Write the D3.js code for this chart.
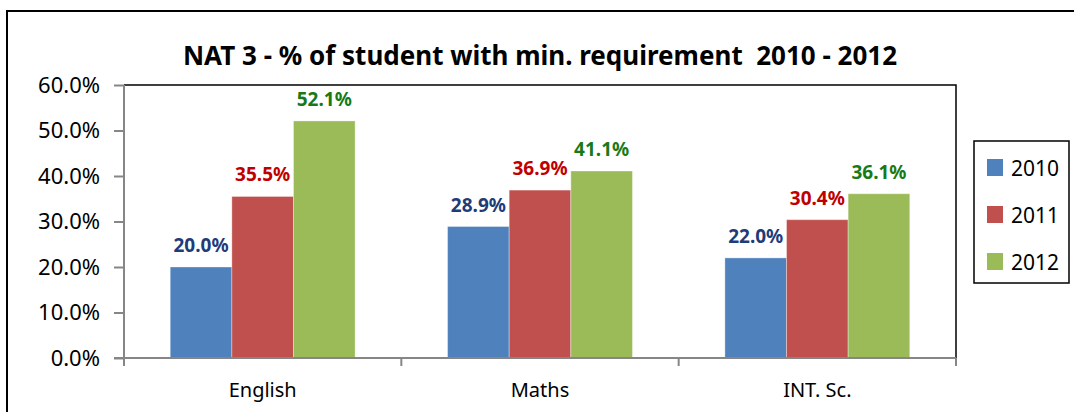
<!DOCTYPE html>
<html>
<head>
<meta charset="utf-8">
<script src="https://cdn.jsdelivr.net/npm/d3@7"></script>
<style>
  body { margin: 0; background: #fff; }
  svg { display: block; font-family: "Noto Sans", sans-serif; }
</style>
</head>
<body>
<svg id="chart" width="1074" height="412"></svg>
<script>
const title = "NAT 3 - % of student with min. requirement  2010 - 2012"
const subjects = ["English", "Maths", "INT. Sc."]
const years = ["2010", "2011", "2012"]
const values2010 = [20.0, 28.9, 22.0]
const values2011 = [35.5, 36.9, 30.4]
const values2012 = [52.1, 41.1, 36.1]
const yTicks = [0, 10, 20, 30, 40, 50, 60]

const barColors = ["#4F81BD", "#C0504D", "#9BBB59"]
const labelColors = ["#1F3B78", "#C00000", "#177A17"]

const seriesValues = [values2010, values2011, values2012]

const svg = d3.select("#chart")
const plot = { left: 124, right: 956, top: 85, bottom: 358 }

// outer chart frame (runs off the picture at right and bottom)
svg.append("rect")
    .attr("x", 7).attr("y", 11)
    .attr("width", 1090).attr("height", 420)
    .attr("fill", "none")
    .attr("stroke", "#000")
    .attr("stroke-width", 2)

svg.append("text")
    .attr("x", (plot.left + plot.right) / 2)
    .attr("y", 65)
    .attr("text-anchor", "middle")
    .attr("font-size", 26)
    .attr("font-weight", "bold")
    .style("white-space", "pre")
    .text(title)

const x0 = d3.scaleBand().domain(subjects).range([plot.left, plot.right]).padding(0)
const x1 = d3.scaleBand().domain(years)
    .range([x0.bandwidth() / 6, x0.bandwidth() * 5 / 6]).padding(0)
const y = d3.scaleLinear().domain([0, 60]).range([plot.bottom, plot.top])

// plot area border (top and right black)
svg.append("path")
    .attr("d", `M${plot.left},${plot.top}H${plot.right}V${plot.bottom}`)
    .attr("fill", "none")
    .attr("stroke", "#000")
    .attr("stroke-width", 1.5)

const groups = svg.selectAll(".group")
    .data(subjects)
    .enter().append("g")
    .attr("transform", d => `translate(${x0(d)},0)`)

groups.each(function (subject, i) {
    const g = d3.select(this)
    years.forEach((yr, s) => {
        const v = seriesValues[s][i]
        g.append("rect")
            .attr("x", x1(yr))
            .attr("y", y(v))
            .attr("width", x1.bandwidth())
            .attr("height", y(0) - y(v))
            .attr("fill", barColors[s])
            .attr("stroke", "rgba(255,255,255,0.35)")
            .attr("stroke-width", 1)
        g.append("text")
            .attr("x", x1(yr) + x1.bandwidth() / 2)
            .attr("y", y(v) - 15)
            .attr("text-anchor", "middle")
            .attr("font-size", 19)
            .attr("font-weight", "bold")
            .attr("fill", labelColors[s])
            .text(v.toFixed(1) + "%")
    })
})

// y axis
const yAxis = svg.append("g")
    .attr("transform", `translate(${plot.left},0)`)
    .call(d3.axisLeft(y).tickValues(yTicks).tickSize(10).tickPadding(14)
        .tickFormat(d => d.toFixed(1) + "%"))
yAxis.select(".domain").attr("stroke", "#868686").attr("stroke-width", 2)
    .attr("d", `M0,${plot.top}V${plot.bottom}`)
yAxis.selectAll(".tick line").attr("stroke", "#868686").attr("stroke-width", 2)
yAxis.selectAll(".tick text").attr("font-size", 22).attr("fill", "#000")
    .attr("font-family", "Noto Sans, sans-serif")

// x axis
const xAxis = svg.append("g")
    .attr("transform", `translate(0,${plot.bottom})`)
    .call(d3.axisBottom(x0).tickSize(0).tickPadding(25))
xAxis.select(".domain").attr("stroke", "#868686").attr("stroke-width", 2)
    .attr("d", `M${plot.left - 10},0H${plot.right}`)
xAxis.selectAll(".tick text").attr("font-size", 20).attr("fill", "#000")
    .attr("font-family", "Noto Sans, sans-serif")

const edges = subjects.map(s => x0(s)).concat([plot.right])
xAxis.selectAll(".edge")
    .data(edges)
    .enter().append("line")
    .attr("x1", d => d).attr("x2", d => d)
    .attr("y1", 0).attr("y2", 8)
    .attr("stroke", "#868686")
    .attr("stroke-width", 2)

// legend
const legend = svg.append("g")
legend.append("rect")
    .attr("x", 974).attr("y", 141)
    .attr("width", 95).attr("height", 142)
    .attr("fill", "#fff")
    .attr("stroke", "#000")
    .attr("stroke-width", 1.5)

years.forEach((yr, s) => {
    const rowY = 176 + s * 47
    legend.append("rect")
        .attr("x", 987).attr("y", rowY - 17)
        .attr("width", 16).attr("height", 17)
        .attr("fill", barColors[s])
    legend.append("text")
        .attr("x", 1011).attr("y", rowY)
        .attr("font-size", 21)
        .text(yr)
})
</script>
</body>
</html>
